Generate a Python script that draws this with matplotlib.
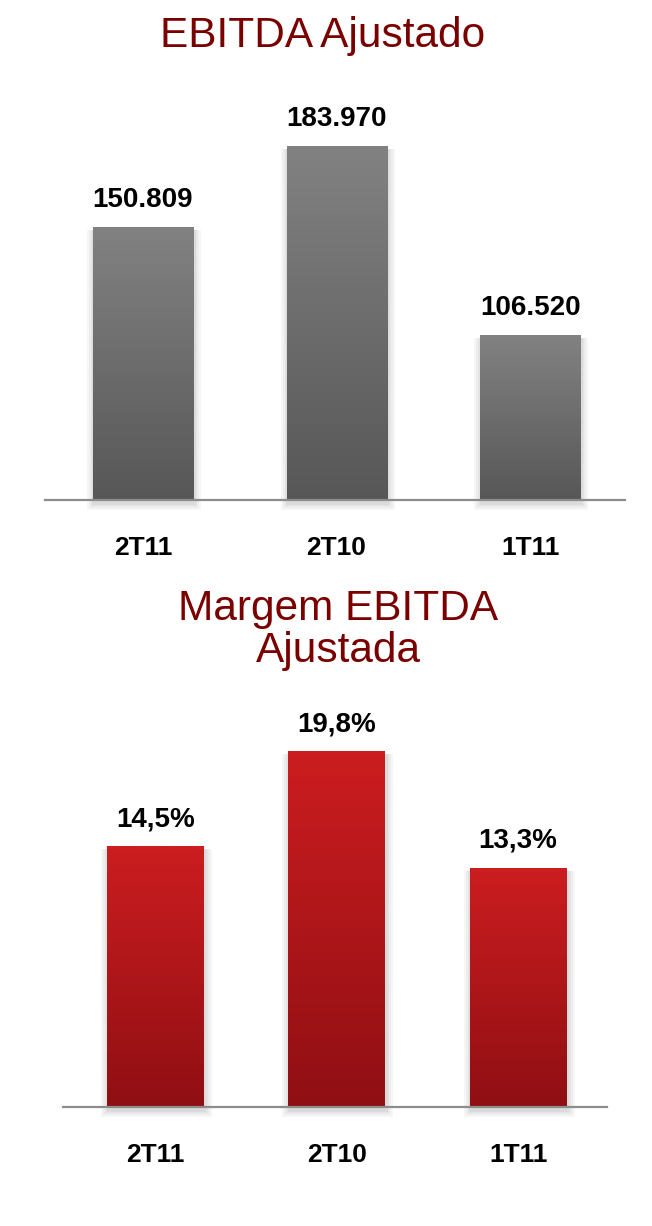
import numpy as np
import matplotlib.pyplot as plt
from matplotlib.colors import LinearSegmentedColormap
from matplotlib.patches import Rectangle

plt.rcParams['font.family'] = ['Liberation Sans', 'DejaVu Sans']

# dados
trimestres = ['2T11', '2T10', '1T11']
ebitda = [150809, 183970, 106520]
ebitda_rotulos = ['150.809', '183.970', '106.520']
margem = [14.5, 19.8, 13.3]
margem_rotulos = ['14,5%', '19,8%', '13,3%']

TITULO_COR = '#7a0000'
W, H = 652, 1226

fig = plt.figure(figsize=(W / 100, H / 100), dpi=100)


def ax_px(x0, y_top, x1, y_bot):
    # eixos em coordenadas de pixel (origem no topo)
    return fig.add_axes([x0 / W, 1 - y_bot / H, (x1 - x0) / W, (y_bot - y_top) / H])


def barras_gradiente(ax, valores, largura, base, c_topo, c_base, px_x, px_y):
    # px_x, px_y: pixels por unidade de dados
    cmap = LinearSegmentedColormap.from_list('g', [c_base, c_topo])
    grad = np.linspace(0, 1, 256).reshape(-1, 1)
    barras = ax.bar(range(len(valores)), [v - base for v in valores], largura,
                    bottom=base, color='none', edgecolor='none', zorder=3)
    for b in barras:
        x, y = b.get_x(), b.get_y()
        w, h = b.get_width(), b.get_height()
        # sombra suave (camadas)
        for r in [7, 5, 3, 1.5]:
            ex, ey = r / px_x, r / px_y
            off = 3 / px_y
            ax.add_patch(Rectangle((x - ex + 1 / px_x, y - ey - off), w + 2 * ex, h + ey,
                                   facecolor='black', alpha=0.035, edgecolor='none',
                                   zorder=2, clip_on=False))
        im = ax.imshow(grad, extent=[x, x + w, y, y + h], origin='lower',
                       cmap=cmap, aspect='auto', zorder=3)
        im.set_clip_path(b)
    return barras


def estilo(ax, xlim, ylim):
    ax.set_xlim(*xlim)
    ax.set_ylim(*ylim)
    for s in ['top', 'right', 'left']:
        ax.spines[s].set_visible(False)
    ax.spines['bottom'].set_color('#8c8c8c')
    ax.spines['bottom'].set_linewidth(1.6)
    ax.spines['bottom'].set_zorder(4)
    ax.set_yticks([])
    ax.set_xticks(range(len(trimestres)))
    ax.set_xticklabels(trimestres, fontsize=19, fontweight='bold')
    ax.tick_params(axis='x', length=0, pad=26)
    ax.patch.set_alpha(0)


# grafico superior
ax1 = ax_px(45, 100, 625, 500)
base1 = 39000
esc1 = 0.002443
b1 = barras_gradiente(ax1, ebitda, 0.517, base1, '#828282', '#575757', 193.5, esc1)
estilo(ax1, (-0.506, 2.49), (base1, base1 + 400 / esc1))
for b, t in zip(b1, ebitda_rotulos):
    ax1.annotate(t, (b.get_x() + b.get_width() / 2, b.get_y() + b.get_height()),
                 xytext=(0, 10), textcoords='offset points', ha='center', va='bottom',
                 fontsize=20, fontweight='bold')
fig.text(323 / W, 1 - 36 / H, 'EBITDA Ajustado', color=TITULO_COR, fontsize=30.5,
         ha='center', va='center')

# grafico inferior
ax2 = ax_px(63, 700, 607, 1107)
esc2 = 17.98
b2 = barras_gradiente(ax2, margem, 0.534, 0, '#cc1d20', '#8f0f13', 181.5, esc2)
estilo(ax2, (-0.51, 2.49), (0, 407 / esc2))
for b, t in zip(b2, margem_rotulos):
    ax2.annotate(t, (b.get_x() + b.get_width() / 2, b.get_y() + b.get_height()),
                 xytext=(0, 10), textcoords='offset points', ha='center', va='bottom',
                 fontsize=20, fontweight='bold')
fig.text(338 / W, 1 - 630 / H, 'Margem EBITDA\nAjustada', color=TITULO_COR, fontsize=30.5,
         ha='center', va='center', linespacing=1.05)

fig.savefig('out.png', dpi=100)
